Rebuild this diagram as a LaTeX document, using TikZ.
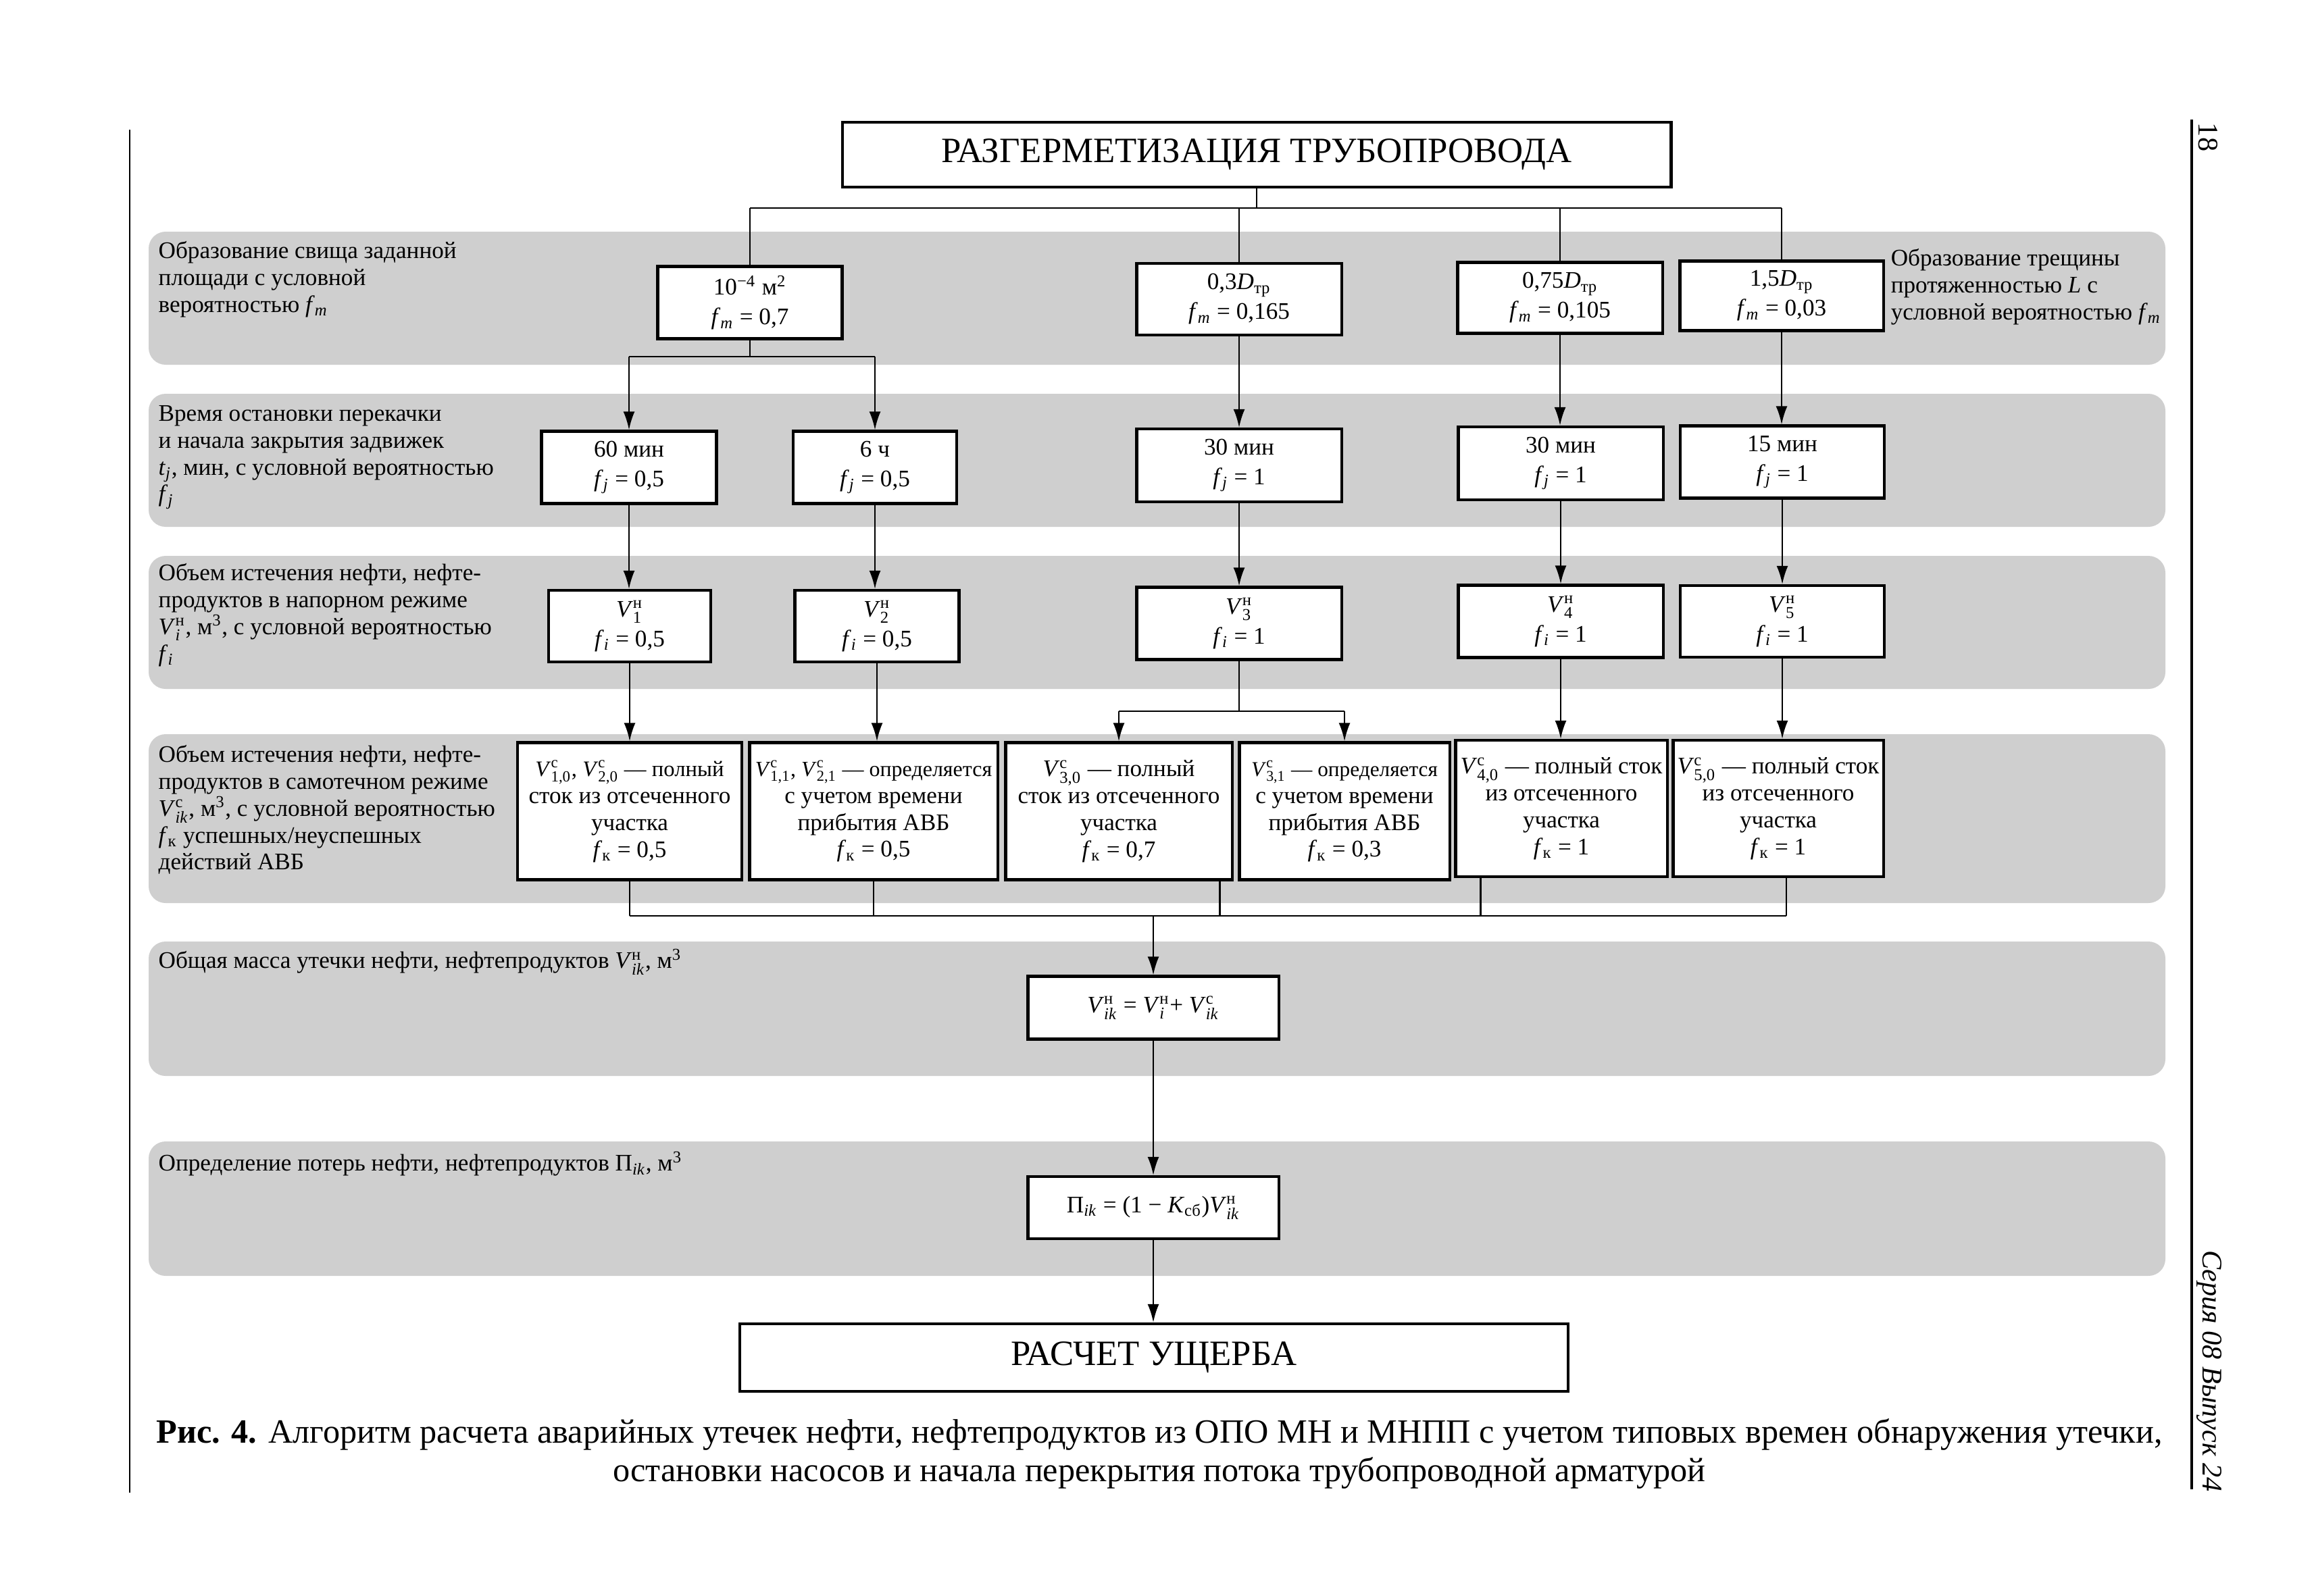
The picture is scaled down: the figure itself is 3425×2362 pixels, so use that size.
\documentclass[tikz,border=0pt]{standalone}
\usepackage{fontspec}
\usepackage{amsmath}
\setmainfont{Liberation Serif}
\usetikzlibrary{arrows.meta}
\definecolor{bandgray}{rgb}{0.81,0.81,0.81}
\newcommand{\sbs}[1]{\ensuremath{_{\text{#1}}}}
\newcommand{\sps}[1]{\ensuremath{^{\text{#1}}}}
\newcommand{\sbsp}[2]{\ensuremath{^{\text{#1}}_{\text{#2}}}}
\newcommand{\ii}[1]{\textit{#1}}
\newcommand{\fs}[1]{\fontsize{#1}{11.3}\selectfont}
\tikzset{
 band/.style={fill=bandgray, draw=none, rounded corners=0.25cm},
 bx/.style={draw, line width=1.2pt, fill=white, align=center, inner sep=1pt,
   font=\fontsize{10}{12.5}\selectfont},
 wbx/.style={bx, font=\fontsize{10}{11.3}\selectfont},
 bigbx/.style={bx, font=\fontsize{15}{18}\selectfont},
 lbl/.style={anchor=north west, align=left, inner sep=0pt, font=\fontsize{10}{11.3}\selectfont},
 ln/.style={line width=0.7pt},
 arr/.style={ln, -{Latex[length=0.27cm,width=0.17cm]}},
}
\begin{document}
\begin{tikzpicture}[x=0.01cm,y=-0.01cm]
\useasboundingbox (0,0) rectangle (3425,2362);
% page rules
\draw[line width=0.6pt] (192,192) -- (192,2210);
\draw[line width=1.3pt] (3244,177) -- (3244,2205);
\node[rotate=-90, font=\fontsize{12}{14}\selectfont] (pg) at (3268,203) {18};
\node[rotate=-90, font=\itshape\fontsize{12}{14}\selectfont] (ser) at (3270,2030) {Серия 08 Выпуск 24};
% bands
\fill[band] (220,343) rectangle (3205,540);
\fill[band] (220,583) rectangle (3205,780);
\fill[band] (220,823) rectangle (3205,1020);
\fill[band] (220,1087) rectangle (3205,1337);
\fill[band] (220,1394) rectangle (3205,1593);
\fill[band] (220,1690) rectangle (3205,1889);
% labels
\node[lbl] (L1) at (234,357) {Образование свища заданной\\площади с условной\\вероятностью \ii{f}\sbs{\ii{m}}};
\node[lbl] (R1) at (2798,368) {Образование трещины\\протяженностью \ii{L} с\\условной вероятностью \ii{f}\sbs{\ii{m}}};
\node[lbl] (L2) at (234,600) {Время остановки перекачки\\и начала закрытия задвижек\\\ii{t}\sbs{\ii{j}}, мин, с условной вероятностью\\\ii{f}\sbs{\ii{j}}};
\node[lbl] (L3) at (234,834) {Объем истечения нефти, нефте-\\продуктов в напорном режиме\\\ii{V}\sbsp{н}{\ii{i}}, м\sps{3}, с условной вероятностью\\\ii{f}\sbs{\ii{i}}};
\node[lbl] (L4) at (234,1103) {Объем истечения нефти, нефте-\\продуктов в самотечном режиме\\\ii{V}\sbsp{с}{\ii{ik}}, м\sps{3}, с условной вероятностью\\\ii{f}\sbs{к} успешных/неуспешных\\действий АВБ};
\node[lbl] (L5) at (234,1404) {Общая масса утечки нефти, нефтепродуктов \ii{V}\sbsp{н}{\ii{ik}}, м\sps{3}};
\node[lbl] (L6) at (234,1704) {Определение потерь нефти, нефтепродуктов П\sbs{\ii{ik}}, м\sps{3}};
% title
\node[bigbx, minimum width=12.26cm, minimum height=0.96cm] (top) at (1860,229) {РАЗГЕРМЕТИЗАЦИЯ ТРУБОПРОВОДА};
% row 1
\node[bx, minimum width=2.73cm, minimum height=1.07cm] (s1) at (1110,448) {10\sps{−4} м\sps{2}\\\ii{f}\sbs{\ii{m}} = 0,7};
\node[bx, minimum width=3.03cm, minimum height=1.06cm] (s3) at (1834,443) {0,3\ii{D}\sbs{тр}\\\ii{f}\sbs{\ii{m}} = 0,165};
\node[bx, minimum width=3.03cm, minimum height=1.05cm] (s4) at (2309,441) {0,75\ii{D}\sbs{тр}\\\ii{f}\sbs{\ii{m}} = 0,105};
\node[bx, minimum width=3.01cm, minimum height=1.03cm] (s5) at (2637,438) {1,5\ii{D}\sbs{тр}\\\ii{f}\sbs{\ii{m}} = 0,03};
% row 2
\node[bx, minimum width=2.59cm, minimum height=1.07cm] (t1) at (931,692) {60 мин\\\ii{f}\sbs{\ii{j}} = 0,5};
\node[bx, minimum width=2.42cm, minimum height=1.07cm] (t2) at (1295,692) {6 ч\\\ii{f}\sbs{\ii{j}} = 0,5};
\node[bx, minimum width=3.03cm, minimum height=1.08cm] (t3) at (1834,689) {30 мин\\\ii{f}\sbs{\ii{j}} = 1};
\node[bx, minimum width=3.03cm, minimum height=1.08cm] (t4) at (2310,686) {30 мин\\\ii{f}\sbs{\ii{j}} = 1};
\node[bx, minimum width=3.02cm, minimum height=1.07cm] (t5) at (2638,684) {15 мин\\\ii{f}\sbs{\ii{j}} = 1};
% row 3
\node[bx, minimum width=2.40cm, minimum height=1.06cm] (v1) at (932,927) {\ii{V}\sbsp{н}{1}\\\ii{f}\sbs{\ii{i}} = 0,5};
\node[bx, minimum width=2.43cm, minimum height=1.06cm] (v2) at (1298,927) {\ii{V}\sbsp{н}{2}\\\ii{f}\sbs{\ii{i}} = 0,5};
\node[bx, minimum width=3.03cm, minimum height=1.07cm] (v3) at (1834,923) {\ii{V}\sbsp{н}{3}\\\ii{f}\sbs{\ii{i}} = 1};
\node[bx, minimum width=3.03cm, minimum height=1.07cm] (v4) at (2310,920) {\ii{V}\sbsp{н}{4}\\\ii{f}\sbs{\ii{i}} = 1};
\node[bx, minimum width=3.02cm, minimum height=1.06cm] (v5) at (2638,920) {\ii{V}\sbsp{н}{5}\\\ii{f}\sbs{\ii{i}} = 1};
% row 4
\node[wbx, minimum width=3.32cm, minimum height=2.03cm] (w1) at (932,1201) {{\fs{9.3}\ii{V}\sbsp{с}{1,0}, \ii{V}\sbsp{с}{2,0} — полный}\\сток из отсеченного\\участка\\\ii{f}\sbs{к} = 0,5};
\node[wbx, minimum width=3.67cm, minimum height=2.03cm] (w2) at (1293,1201) {{\fs{9.1}\ii{V}\sbsp{с}{1,1}, \ii{V}\sbsp{с}{2,1} — определяется}\\с учетом времени\\прибытия АВБ\\\ii{f}\sbs{к} = 0,5};
\node[wbx, minimum width=3.35cm, minimum height=2.03cm] (w3) at (1656,1201) {\ii{V}\sbsp{с}{3,0} — полный\\сток из отсеченного\\участка\\\ii{f}\sbs{к} = 0,7};
\node[wbx, minimum width=3.11cm, minimum height=2.03cm] (w4) at (1990,1201) {{\fs{8.9}\ii{V}\sbsp{с}{3,1} — определяется}\\с учетом времени\\прибытия АВБ\\\ii{f}\sbs{к} = 0,3};
\node[wbx, minimum width=3.13cm, minimum height=2.02cm] (w5) at (2311,1197) {\ii{V}\sbsp{с}{4,0} — полный сток\\из отсеченного\\участка\\\ii{f}\sbs{к} = 1};
\node[wbx, minimum width=3.11cm, minimum height=2.02cm] (w6) at (2632,1197) {\ii{V}\sbsp{с}{5,0} — полный сток\\из отсеченного\\участка\\\ii{f}\sbs{к} = 1};
% formulas
\node[bx, minimum width=3.71cm, minimum height=0.93cm] (sumbox) at (1707,1492) {\ii{V}\sbsp{н}{\ii{ik}} = \ii{V}\sbsp{н}{\ii{i}}+ \ii{V}\sbsp{с}{\ii{ik}}};
\node[bx, minimum width=3.71cm, minimum height=0.92cm] (lossbox) at (1707,1788) {П\sbs{\ii{ik}} = (1 − \ii{K}\sbs{сб})\ii{V}\sbsp{н}{\ii{ik}}};
\node[bigbx, minimum width=12.25cm, minimum height=1.00cm] (final) at (1708,2010) {РАСЧЕТ УЩЕРБА};
% caption
\node[align=center, inner sep=0pt, font=\fontsize{14.3}{16.2}\selectfont] (cap) at (1716,2152)
 {\textbf{Рис. 4.} Алгоритм расчета аварийных утечек нефти, нефтепродуктов из ОПО МН и МНПП с учетом типовых времен обнаружения утечки,\\остановки насосов и начала перекрытия потока трубопроводной арматурой};
% connectors: top tree
\coordinate (hy) at (0,308);
\draw[ln] (top.south) -- (top.south |- hy);
\draw[ln] (s1.north |- hy) -- (s5.north |- hy);
\draw[ln] (s1.north |- hy) -- (s1.north);
\draw[ln] (s3.north |- hy) -- (s3.north);
\draw[ln] (s4.north |- hy) -- (s4.north);
\draw[ln] (s5.north |- hy) -- (s5.north);
% row1 -> row2
\coordinate (h2) at (0,528);
\draw[ln] (s1.south) -- (s1.south |- h2);
\draw[ln] (t1.north |- h2) -- (t2.north |- h2);
\draw[arr] (t1.north |- h2) -- (t1.north);
\draw[arr] (t2.north |- h2) -- (t2.north);
\draw[arr] (s3.south) -- (s3.south |- t3.north);
\draw[arr] (s4.south) -- (s4.south |- t4.north);
\draw[arr] (s5.south) -- (s5.south |- t5.north);
% row2 -> row3
\draw[arr] (t1.south) -- (t1.south |- v1.north);
\draw[arr] (t2.south) -- (t2.south |- v2.north);
\draw[arr] (t3.south) -- (t3.south |- v3.north);
\draw[arr] (t4.south) -- (t4.south |- v4.north);
\draw[arr] (t5.south) -- (t5.south |- v5.north);
% row3 -> row4
\draw[arr] (v1.south) -- (v1.south |- w1.north);
\draw[arr] (v2.south) -- (v2.south |- w2.north);
\coordinate (h3) at (0,1053);
\draw[ln] (v3.south) -- (v3.south |- h3);
\draw[ln] (w3.north |- h3) -- (w4.north |- h3);
\draw[arr] (w3.north |- h3) -- (w3.north);
\draw[arr] (w4.north |- h3) -- (w4.north);
\draw[arr] (v4.south) -- (v4.south |- w5.north);
\draw[arr] (v5.south) -- (v5.south |- w6.north);
% collector
\coordinate (h4) at (0,1356);
\draw[ln] (w1.south) -- (w1.south |- h4);
\draw[ln] (w2.south) -- (w2.south |- h4);
\draw[ln] ([xshift=-0.2cm]w3.south east) -- ([xshift=-0.2cm]w3.south east |- h4);
\draw[ln] ([xshift=0.39cm]w5.south west) -- ([xshift=0.39cm]w5.south west |- h4);
\draw[ln] ([xshift=0.12cm]w6.south) -- ([xshift=0.12cm]w6.south |- h4);
\draw[ln] (w1.south |- h4) -- ([xshift=0.12cm]w6.south |- h4);
\draw[arr] (sumbox.north |- h4) -- (sumbox.north);
\draw[arr] (sumbox.south) -- (lossbox.north);
\draw[arr] (lossbox.south) -- (lossbox.south |- final.north);
\end{tikzpicture}
\end{document}
